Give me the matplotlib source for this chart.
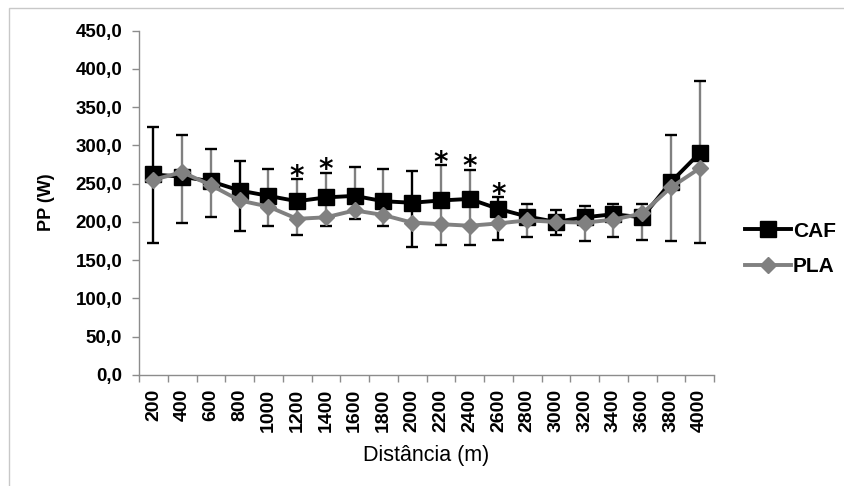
import matplotlib.pyplot as plt
from matplotlib.patches import Rectangle
import numpy as np

plt.rcParams['font.family'] = ['Liberation Sans', 'DejaVu Sans']

# data
distances = ['200', '400', '600', '800', '1000', '1200', '1400', '1600', '1800', '2000',
             '2200', '2400', '2600', '2800', '3000', '3200', '3400', '3600', '3800', '4000']
caf = [262, 259, 253, 241, 234, 227, 232, 234, 227, 225,
       228, 230, 217, 207, 200, 206, 210, 206, 252, 290]
caf_err = [62, 54, 42, 38, 35, 29, 32, 38, 42, 41,
           46, 38, 15, 17, 16, 15, 14, 18, 61, 94]
pla = [255, 265, 248, 228, 220, 204, 206, 215, 209, 199,
       197, 195, 198, 202, 200, 199, 203, 211, 245, 270]
pla_err = [83, 67, 42, 40, 25, 21, 12, 11, 15, 32,
           27, 25, 21, 22, 17, 24, 23, 34, 70, 98]
significant = ['1200', '1400', '2200', '2400', '2600']
yticks = [0, 50, 100, 150, 200, 250, 300, 350, 400, 450]

# style
GRAY = '#808080'
AXIS = '#8c8c8c'
bar_dark = ['200', '800', '2000', '2600', '3000']

x = np.arange(len(distances))
upper = np.array(caf) + np.array(caf_err)
lower = np.array(pla) - np.array(pla_err)

fig = plt.figure(figsize=(8.45, 4.86), dpi=100)
ax = fig.add_axes([0.1645, 0.2284, 0.6805, 0.7088])

# error bars: vertical line coloured per point, black caps
bar_cols = ['black' if d in bar_dark else GRAY for d in distances]
ax.vlines(x, lower, upper, colors=bar_cols, linewidth=1.7, zorder=1)
ax.plot(x, upper, ls='none', marker='_', ms=8, mew=1.7, color='black', zorder=1)
ax.plot(x, lower, ls='none', marker='_', ms=8, mew=1.7, color='black', zorder=1)

ax.plot(x, caf, color='black', lw=2.8, marker='s', ms=11, zorder=3, label='CAF')
ax.plot(x, pla, color=GRAY, lw=2.8, marker='D', ms=8, zorder=4, label='PLA')

for d in significant:
    i = distances.index(d)
    ax.annotate('*', xy=(x[i], upper[i]), xytext=(0, -4), textcoords='offset points',
                ha='center', va='baseline', fontsize=20, fontweight='bold',
                family='DejaVu Sans')

ax.set_xlim(-0.5, len(distances) - 0.5)
ax.set_ylim(0, 450)
ax.set_yticks(yticks)
ax.set_yticklabels([f'{v:.1f}'.replace('.', ',') for v in yticks],
                   fontsize=13.5, fontweight='bold')
ax.set_xticks(x)
ax.set_xticklabels(distances, rotation=90, fontsize=14, fontweight='bold')
ax.set_xticks(np.arange(-0.5, len(distances)), minor=True)
ax.tick_params(axis='x', which='major', length=0, pad=10)
ax.tick_params(axis='x', which='minor', length=5, width=1, color=AXIS, direction='out')
ax.tick_params(axis='y', length=5, width=1, color=AXIS, direction='out', pad=7)

for s in ['top', 'right']:
    ax.spines[s].set_visible(False)
for s in ['left', 'bottom']:
    ax.spines[s].set_color(AXIS)
    ax.spines[s].set_linewidth(1)

ax.set_xlabel('Distância (m)', fontsize=15.5)
ax.xaxis.set_label_coords(0.5, -0.203)
ax.text(-0.16, 0.502, 'PP (W)', transform=ax.transAxes, rotation=90,
        ha='center', va='center', fontsize=13, fontweight='bold')

ax.legend(loc='center left', bbox_to_anchor=(745 / 845, 1 - 249 / 486),
          bbox_transform=fig.transFigure, frameon=False, borderpad=0,
          borderaxespad=0, handlelength=2.2, handletextpad=0.1, labelspacing=0.8,
          prop={'size': 15, 'weight': 'bold'})

# chart area outline
fig.add_artist(Rectangle((9 / 845, -0.5), 1.5, 1 - 8 / 486 + 0.5,
                         transform=fig.transFigure, fill=False,
                         edgecolor='#c8c8c8', lw=1))

fig.savefig('out.png', dpi=100)
